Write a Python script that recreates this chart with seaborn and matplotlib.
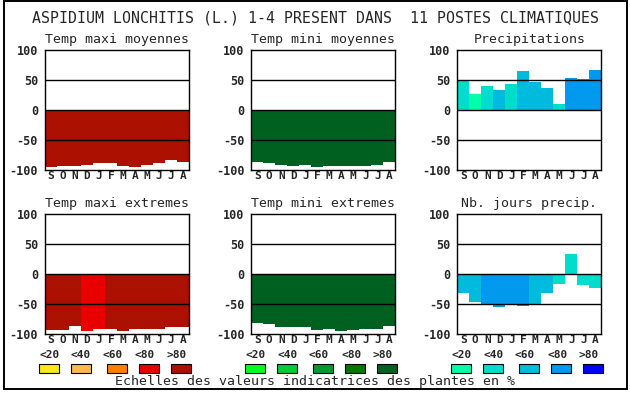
import numpy as np
import pandas as pd
import seaborn as sns
import matplotlib.pyplot as plt
from matplotlib.patches import Rectangle

sns.set_theme(style="white")
plt.rcParams['font.family'] = ['DejaVu Sans Mono', 'DejaVu Sans']

# donnees
mois = ["S", "O", "N", "D", "J", "F", "M", "A", "M", "J", "J", "A"]
classes = ["<20", "<40", "<60", "<80", ">80"]

coul_maxi = ["#F8E818", "#FFB850", "#FF8000", "#E80000", "#AC1000"]
coul_mini = ["#00FF20", "#00CC33", "#009930", "#007800", "#006020"]
coul_prec = ["#00FFA8", "#00DDCC", "#00BBDD", "#0099EE", "#0000FF"]

tmax_moy = [-95, -93, -93, -92, -88, -88, -93, -95, -92, -88, -83, -87]
tmax_moy_cl = [4, 4, 4, 4, 4, 4, 4, 4, 4, 4, 4, 4]

tmin_moy = [-87, -88, -92, -93, -92, -95, -93, -93, -93, -93, -92, -87]
tmin_moy_cl = [4, 4, 4, 4, 4, 4, 4, 4, 4, 4, 4, 4]

precip = [48, 27, 40, 33, 43, 65, 47, 37, 10, 53, 52, 67]
precip_cl = [1, 0, 1, 2, 1, 2, 2, 2, 1, 3, 3, 3]

tmax_ext = [-93, -93, -87, -95, -92, -92, -95, -92, -92, -92, -88, -88]
tmax_ext_cl = [4, 4, 4, 3, 3, 4, 4, 4, 4, 4, 4, 4]

tmin_ext = [-82, -83, -88, -88, -88, -93, -92, -95, -93, -92, -92, -87]
tmin_ext_cl = [4, 4, 4, 4, 4, 4, 4, 4, 4, 4, 4, 4]

jours = [-32, -47, -50, -55, -50, -53, -50, -32, -17, 33, -18, -23]
jours_cl = [2, 2, 3, 3, 3, 3, 2, 2, 1, 1, 1, 1]

titre = "ASPIDIUM LONCHITIS (L.) 1-4 PRESENT DANS  11 POSTES CLIMATIQUES"
pied = "Echelles des valeurs indicatrices des plantes en %"

panneaux = [
    ("Temp maxi moyennes", tmax_moy, tmax_moy_cl, coul_maxi),
    ("Temp mini moyennes", tmin_moy, tmin_moy_cl, coul_mini),
    ("Precipitations", precip, precip_cl, coul_prec),
    ("Temp maxi extremes", tmax_ext, tmax_ext_cl, coul_maxi),
    ("Temp mini extremes", tmin_ext, tmin_ext_cl, coul_mini),
    ("Nb. jours precip.", jours, jours_cl, coul_prec),
]

W, H = 630, 394
fig = plt.figure(figsize=(W / 100, H / 100), dpi=100)
fig.patch.set_facecolor("white")

# cadre
fig.add_artist(Rectangle((4 / W, 1 - 389 / H), 623 / W, 388 / H,
                         transform=fig.transFigure, fill=False,
                         edgecolor="black", linewidth=1.4))

fig.text(315 / W, 1 - 18 / H, titre, ha="center", va="center", fontsize=10.7)

lefts = [45, 251.3, 457.3]
tops = [50, 214]

for i, (nom, vals, cl, pal) in enumerate(panneaux):
    lx = lefts[i % 3]
    ty = tops[i // 3]
    ax = fig.add_axes([lx / W, 1 - (ty + 120) / H, 144 / W, 120 / H])
    df = pd.DataFrame({"pos": np.arange(12), "val": vals,
                       "coul": [pal[c] for c in cl]})
    sns.barplot(data=df, x="pos", y="val", hue="pos", palette=list(df["coul"]),
                width=1.0, saturation=1, legend=False, linewidth=0, ax=ax, zorder=1)
    for yy in (50, 0, -50):
        ax.axhline(yy, color="black", linewidth=1.0, zorder=3)
    ax.set_xlim(-0.5, 11.5)
    ax.set_ylim(-100, 100)
    ax.set_yticks([100, 50, 0, -50, -100])
    ax.set_yticklabels(["100", "50", "0", "-50", "-100"], fontsize=8.5, fontweight="bold")
    ax.set_xticks(np.arange(12))
    ax.set_xticklabels(mois, fontsize=8, fontweight="bold")
    ax.tick_params(length=0, pad=1)
    ax.tick_params(axis="y", pad=5)
    ax.set_xlabel("")
    ax.set_ylabel("")
    for s in ax.spines.values():
        s.set_color("black")
        s.set_linewidth(1.0)
    ax.set_title(nom, fontsize=9.5, pad=5)

    if i >= 3:
        lab_off = [4.3, 36, 67.7, 100, 131.7]
        box_off = [-6, 26, 62, 94, 126]
        for k in range(5):
            fig.text((lx + lab_off[k]) / W, 1 - 355.5 / H, classes[k], ha="center",
                     va="center", fontsize=8, fontweight="bold")
            fig.add_artist(Rectangle(((lx + box_off[k]) / W, 1 - 373 / H), 20 / W, 9 / H,
                                     transform=fig.transFigure, facecolor=pal[k],
                                     edgecolor="black", linewidth=0.8))

fig.text(315 / W, 1 - 382 / H, pied, ha="center", va="center", fontsize=9.5)

fig.savefig("out.png", dpi=100)
